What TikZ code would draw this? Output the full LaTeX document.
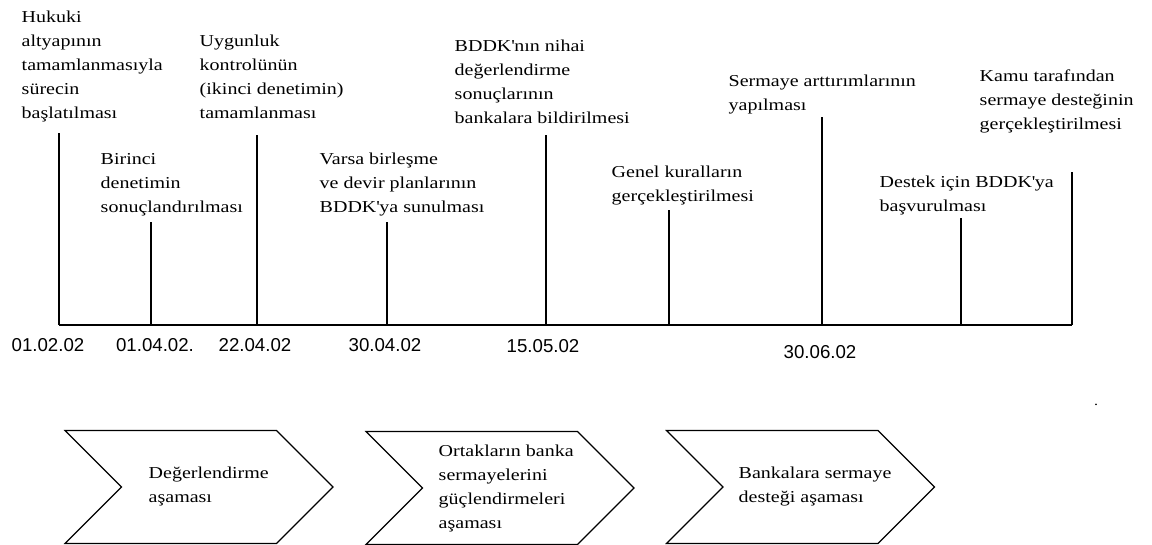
\documentclass[tikz,border=0pt]{standalone}
\usepackage{fontspec}
\setmainfont{Liberation Serif}[FakeStretch=1.2]
\newfontfamily\datefont{Liberation Sans}
\usetikzlibrary{shapes.symbols}

\begin{document}
\begin{tikzpicture}
  [x=0.75pt,y=-0.75pt,line width=1.1pt,every node/.style={inner sep=0pt},
   lbl/.style={anchor=north west,align=left,font=\fontsize{12.5}{18}\selectfont},
   date/.style={font=\datefont\fontsize{14}{16}\selectfont},
   phase/.style={draw,line width=0.9pt,signal,signal to=east,signal from=west,
     minimum width=201pt,minimum height=84.75pt}]
  \useasboundingbox (0,0) rectangle (1152,545);

  % olay metinleri
  \node (l1) [lbl] at (21,10.7) {Hukuki\\altyapının\\tamamlanmasıyla\\sürecin\\başlatılması};
  \node (l2) [lbl] at (100,153) {Birinci\\denetimin\\sonuçlandırılması};
  \node (l3) [lbl] at (199,34.7) {Uygunluk\\kontrolünün\\(ikinci denetimin)\\tamamlanması};
  \node (l4) [lbl] at (319,152.3) {Varsa birleşme\\ve devir planlarının\\BDDK\textquotesingle{}ya sunulması};
  \node (l5) [lbl] at (454,39) {BDDK\textquotesingle{}nın nihai\\değerlendirme\\sonuçlarının\\bankalara bildirilmesi};
  \node (l6) [lbl] at (611,165.7) {Genel kuralların\\gerçekleştirilmesi};
  \node (l7) [lbl] at (728,74) {Sermaye arttırımlarının\\yapılması};
  \node (l8) [lbl] at (979,69) {Kamu tarafından\\sermaye desteğinin\\gerçekleştirilmesi};
  \node (l9) [lbl] at (879,175.7) {Destek için BDDK\textquotesingle{}ya\\başvurulması};

  % tarihler
  \node (d1) [date] at (48,345)  {01.02.02};
  \node (d2) [date] at (155,345) {01.04.02.};
  \node (d3) [date] at (255,345) {22.04.02};
  \node (d4) [date] at (385,345) {30.04.02};
  \node (d5) [date] at (543,346) {15.05.02};
  \node (d6) [date] at (820,352) {30.06.02};
  \node (dot) at (1096,405) {.};

  % zaman ekseni
  \coordinate (b1) at (59,325);   \coordinate (t1) at (59,133);
  \coordinate (b2) at (151,325);  \coordinate (t2) at (151,222);
  \coordinate (b3) at (257,325);  \coordinate (t3) at (257,135);
  \coordinate (b4) at (387,325);  \coordinate (t4) at (387,222);
  \coordinate (b5) at (546,325);  \coordinate (t5) at (546,135);
  \coordinate (b6) at (669,325);  \coordinate (t6) at (669,210);
  \coordinate (b7) at (822,325);  \coordinate (t7) at (822,117);
  \coordinate (b8) at (961,325);  \coordinate (t8) at (961,218);
  \coordinate (b9) at (1072,325); \coordinate (t9) at (1072,172);

  \draw (b1) -- (b9);
  \foreach \from/\to in {b1/t1,b2/t2,b3/t3,b4/t4,b5/t5,b6/t6,b7/t7,b8/t8,b9/t9}
    \draw (\from) -- (\to);

  % asamalar
  \node (ph1) [phase] at (199,487) {};
  \node (ph2) [phase] at (500,488) {};
  \node (ph3) [phase] at (800.5,487) {};
  \node (p1) [lbl] at (148,466) {Değerlendirme\\aşaması};
  \node (p2) [lbl] at (438,444) {Ortakların banka\\sermayelerini\\güçlendirmeleri\\aşaması};
  \node (p3) [lbl] at (738,466) {Bankalara sermaye\\desteği aşaması};

\end{tikzpicture}
\end{document}
